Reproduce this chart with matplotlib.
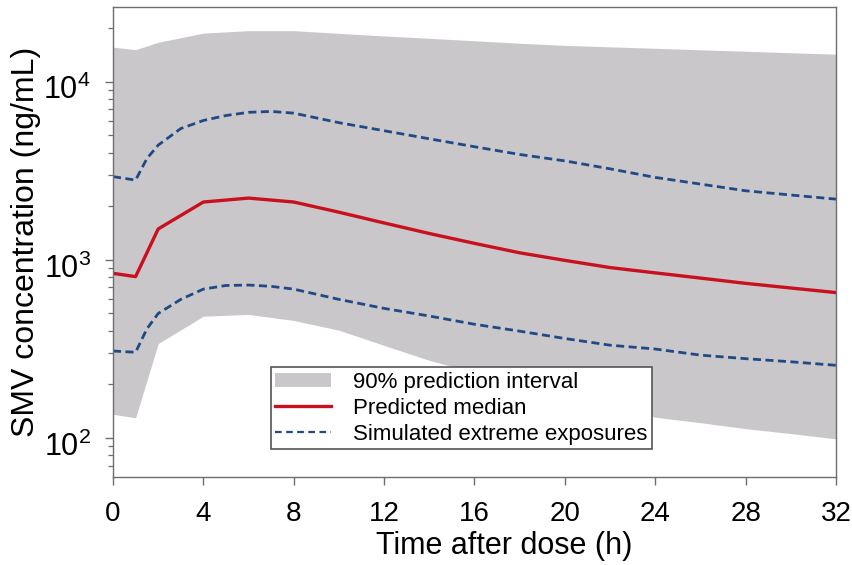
import matplotlib
matplotlib.use("Agg")
import matplotlib.pyplot as plt
import matplotlib.transforms as mtransforms
from matplotlib.ticker import FixedLocator, NullFormatter, LogLocator
from matplotlib.patches import Patch
from matplotlib.lines import Line2D

plt.rcParams['font.family'] = ['Liberation Sans', 'DejaVu Sans']

# ---- data ----
t_band = [0, 1, 2, 4, 6, 8, 10, 12, 14, 16, 18, 20, 22, 24, 26, 28, 30, 32]
band_upper = [15600, 15100, 16600, 18700, 19300, 19300, 18640, 18030, 17490,
              16940, 16400, 15960, 15660, 15370, 15070, 14800, 14510, 14250]
band_lower = [136, 130, 339, 483, 494, 457, 403, 331, 273, 234, 202, 174,
              151, 131, 122, 113, 106, 99]

t_med = [0, 1, 2, 4, 6, 8, 10, 12, 14, 16, 18, 20, 22, 24, 26, 28, 30, 32]
median = [840, 805, 1490, 2110, 2220, 2110, 1850, 1610, 1405, 1237, 1095, 993,
          905, 845, 790, 738, 695, 655]

t_ext = [0, 1, 1.5, 2, 3, 4, 5, 6, 7, 8, 10, 12, 14, 16, 18, 20, 22, 24, 26,
         28, 30, 32]
upper_ext = [2930, 2800, 3700, 4400, 5450, 6050, 6450, 6720, 6800, 6650, 5880,
             5300, 4775, 4310, 3900, 3590, 3240, 2900, 2660, 2440, 2310, 2190]
lower_ext = [308, 303, 410, 500, 600, 685, 718, 722, 710, 685, 600, 534, 484,
             435, 398, 362, 332, 316, 292, 279, 268, 256]

x_ticks = [0, 4, 8, 12, 16, 20, 24, 28, 32]
y_ticks = [100, 1000, 10000]
y_ticklabels = [r'$\mathregular{10^2}$', r'$\mathregular{10^3}$', r'$\mathregular{10^4}$']

legend_labels = ['90% prediction interval', 'Predicted median',
                 'Simulated extreme exposures']

# ---- styles ----
band_color = '#c9c7ca'
red = '#c8101e'
blue = '#1f4a86'
frame_color = '#6e6e6e'
dash = (0, (2.9, 1.6))

fig = plt.figure(figsize=(8.53, 5.65), dpi=100)
ax = fig.add_axes([113 / 853, 88 / 565, 723 / 853, 470 / 565])

ax.fill_between(t_band, band_lower, band_upper, color=band_color, lw=0)
ax.plot(t_ext, upper_ext, color=blue, lw=2.0, ls=dash)
ax.plot(t_ext, lower_ext, color=blue, lw=2.0, ls=dash)
ax.plot(t_med, median, color=red, lw=2.4)

ax.set_yscale('log')
ax.set_xlim(0, 32)
ax.set_ylim(60.5, 26200)

ax.xaxis.set_major_locator(FixedLocator(x_ticks))
ax.set_xticklabels([str(v) for v in x_ticks])
ax.yaxis.set_major_locator(FixedLocator(y_ticks))
ax.set_yticklabels(y_ticklabels)
ax.yaxis.set_minor_locator(LogLocator(base=10, subs=range(2, 10)))
ax.yaxis.set_minor_formatter(NullFormatter())

ax.tick_params(axis='x', which='major', direction='out', length=6,
               width=1.0, color=frame_color, labelsize=20, pad=11)
ax.tick_params(axis='y', which='major', direction='out', length=6,
               width=1.0, color=frame_color, labelsize=22, pad=10)
ax.tick_params(axis='y', which='minor', direction='out', length=3.5,
               width=0.9, color=frame_color)
ax.tick_params(axis='x', which='minor', bottom=False)

# y tick labels sit slightly below their ticks in the reference
offset = mtransforms.ScaledTranslation(0, -4 / 72, fig.dpi_scale_trans)
for lbl in ax.get_yticklabels():
    lbl.set_transform(lbl.get_transform() + offset)

for s in ax.spines.values():
    s.set_color(frame_color)
    s.set_linewidth(1.0)

ax.set_xlabel('Time after dose (h)', fontsize=22)
ax.xaxis.set_label_coords(0.541, -0.115)
ax.set_ylabel('SMV concentration (ng/mL)', fontsize=23)
ax.yaxis.set_label_coords(-0.1, 0.5)

handles = [Patch(facecolor=band_color, edgecolor='none'),
           Line2D([0], [0], color=red, lw=2.4),
           Line2D([0], [0], color=blue, lw=1.6, ls=(0, (3.0, 2.0)))]
leg = ax.legend(handles, legend_labels, loc='lower left',
                bbox_to_anchor=(0.2185, 0.0596), borderaxespad=0,
                fontsize=16, frameon=True, fancybox=False, framealpha=1,
                edgecolor='#555555', labelspacing=0.22, handlelength=2.5,
                handleheight=0.6, handletextpad=1.0, borderpad=0.2)
leg.get_frame().set_linewidth(1.2)

fig.savefig('out.png', dpi=100)
